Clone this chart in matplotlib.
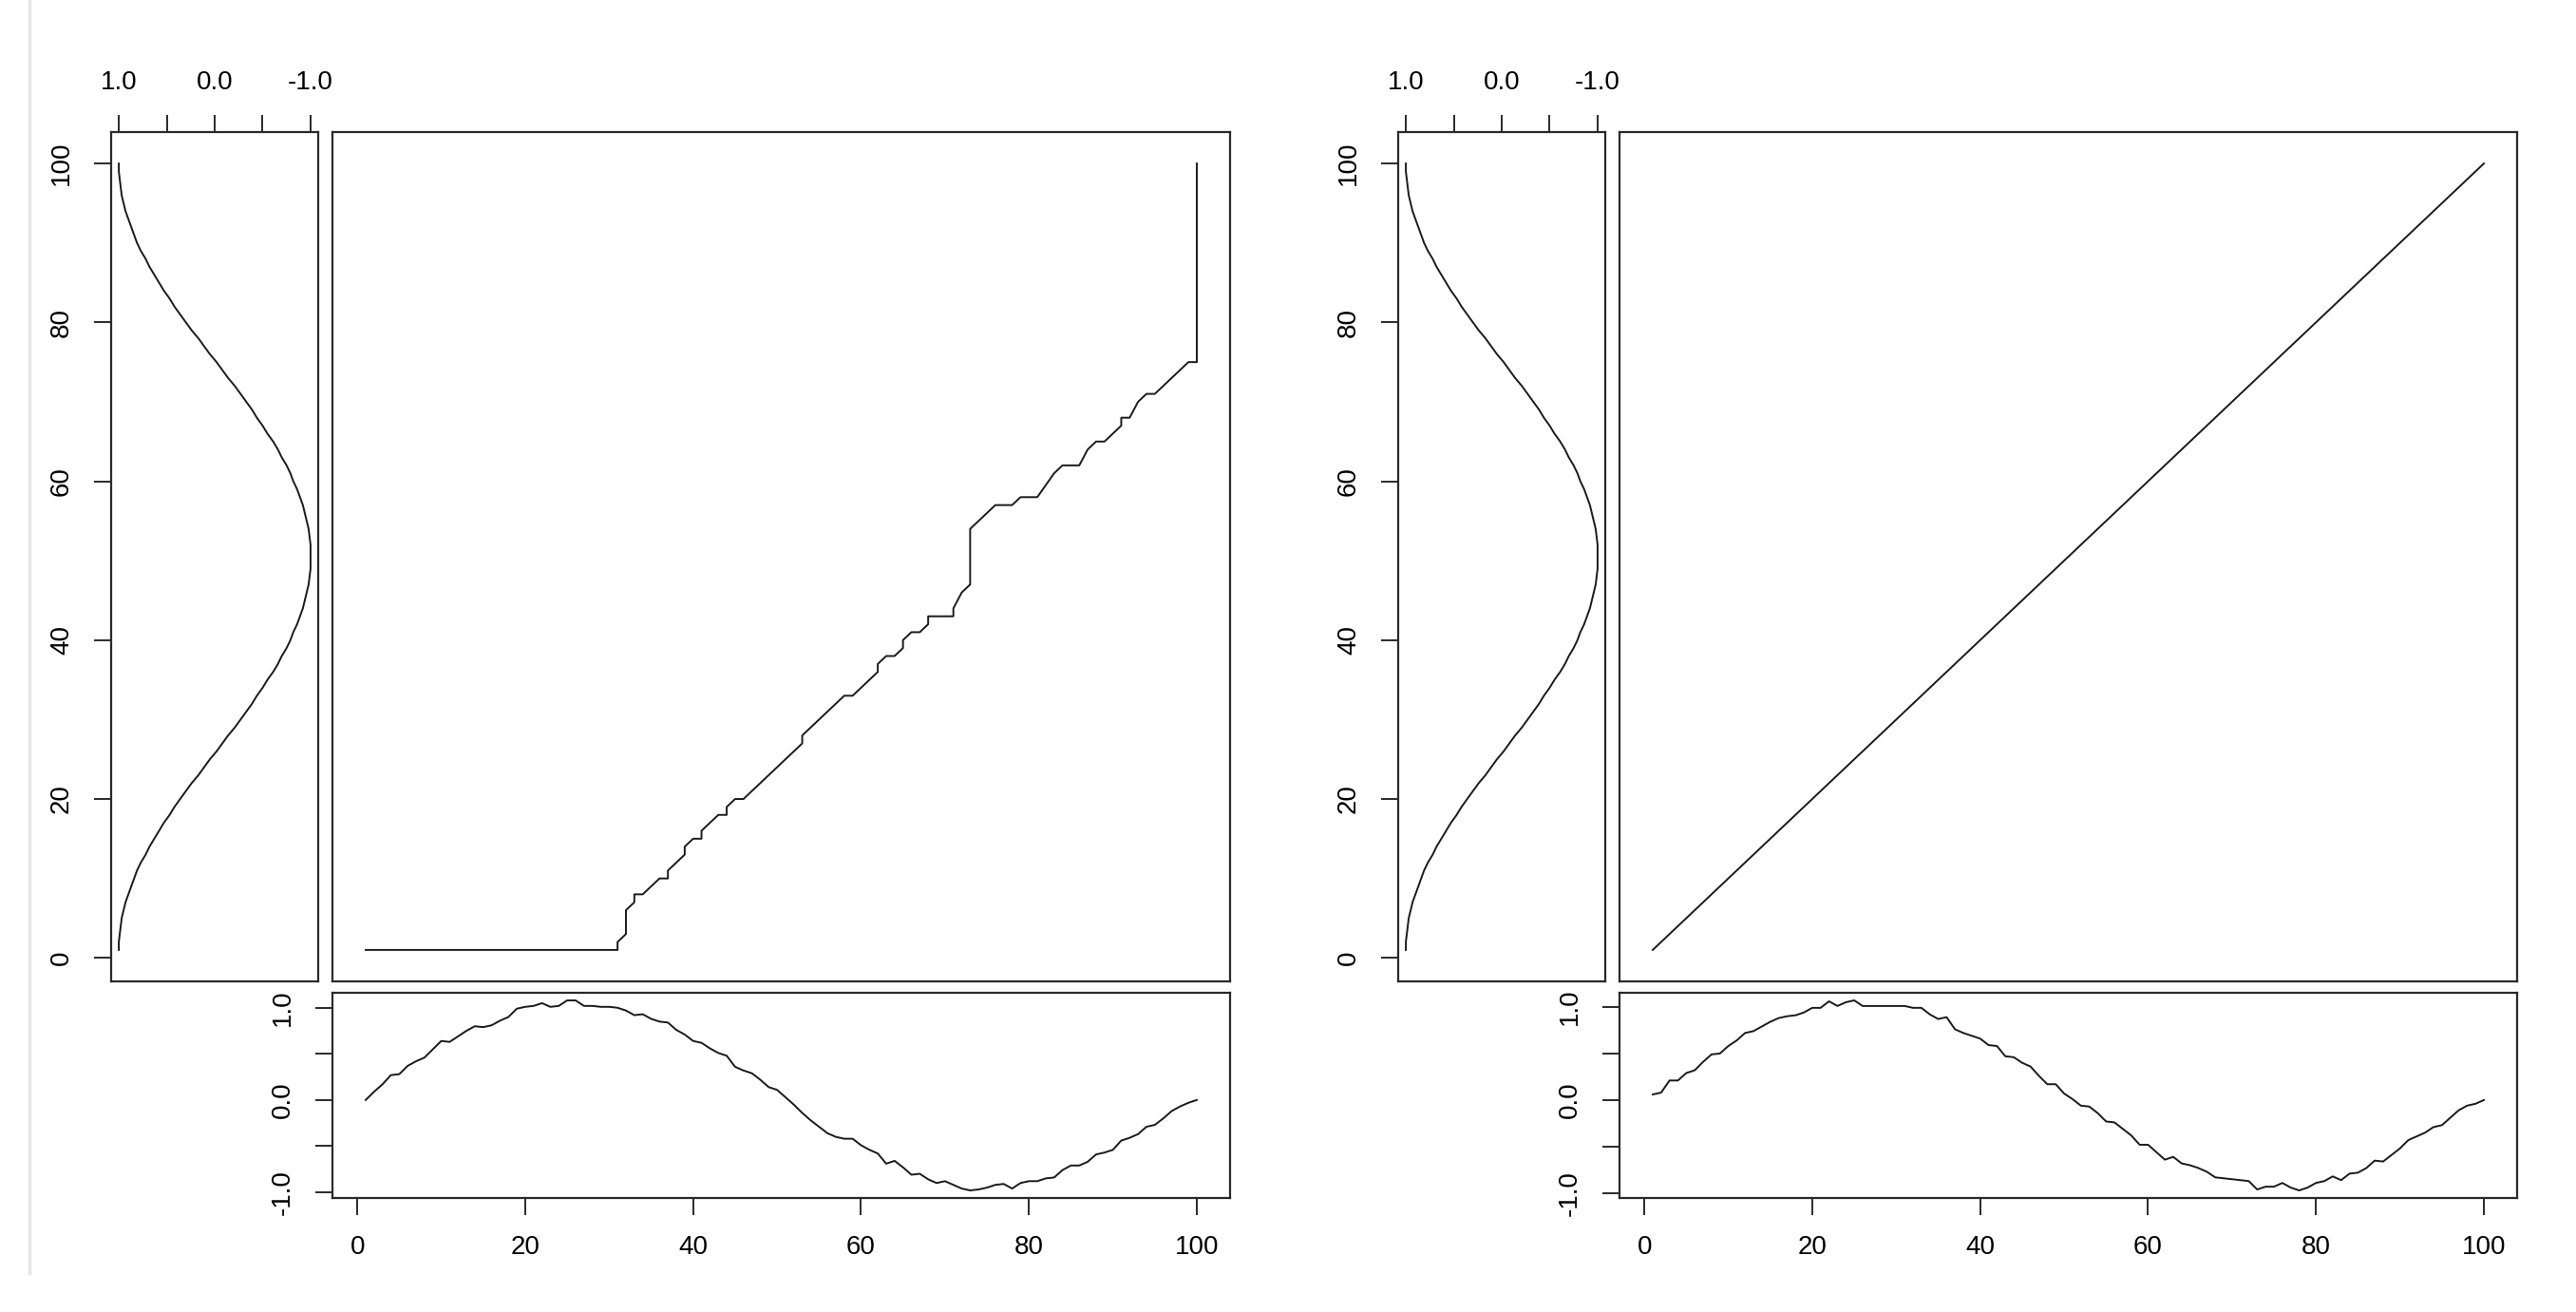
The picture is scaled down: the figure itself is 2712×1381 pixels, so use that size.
import matplotlib
matplotlib.use("Agg")
import matplotlib.pyplot as plt
from matplotlib.lines import Line2D
import numpy as np

plt.rcParams['font.family'] = ['Liberation Sans', 'DejaVu Sans']

# ---------------- data ----------------
index = list(range(1, 101))

query = [1.00, 1.00, 0.99, 0.98, 0.97, 0.95, 0.93, 0.90, 0.87, 0.84,
         0.81, 0.77, 0.72, 0.68, 0.63, 0.58, 0.53, 0.47, 0.42, 0.36,
         0.30, 0.24, 0.17, 0.11, 0.05, -0.02, -0.08, -0.14, -0.21, -0.27,
         -0.33, -0.39, -0.44, -0.50, -0.55, -0.61, -0.66, -0.70, -0.75, -0.79,
         -0.82, -0.86, -0.89, -0.92, -0.94, -0.96, -0.98, -0.99, -1.00, -1.00,
         -1.00, -1.00, -0.99, -0.98, -0.96, -0.94, -0.92, -0.89, -0.86, -0.82,
         -0.79, -0.75, -0.70, -0.66, -0.61, -0.55, -0.50, -0.44, -0.39, -0.33,
         -0.27, -0.21, -0.14, -0.08, -0.02, 0.05, 0.11, 0.17, 0.24, 0.30,
         0.36, 0.42, 0.47, 0.53, 0.58, 0.63, 0.68, 0.72, 0.77, 0.81,
         0.84, 0.87, 0.90, 0.93, 0.95, 0.97, 0.98, 0.99, 1.00, 1.00]

ref_left = [0.00, 0.09, 0.17, 0.27, 0.28, 0.37, 0.42, 0.46, 0.55, 0.64,
            0.63, 0.69, 0.75, 0.80, 0.79, 0.81, 0.86, 0.90, 0.99, 1.01,
            1.02, 1.05, 1.01, 1.02, 1.08, 1.08, 1.02, 1.02, 1.01, 1.01,
            1.00, 0.97, 0.92, 0.93, 0.88, 0.85, 0.84, 0.76, 0.71, 0.64,
            0.62, 0.56, 0.51, 0.48, 0.36, 0.32, 0.29, 0.22, 0.14, 0.11,
            0.03, -0.05, -0.14, -0.22, -0.29, -0.36, -0.40, -0.42, -0.42, -0.49,
            -0.54, -0.58, -0.69, -0.66, -0.73, -0.81, -0.80, -0.86, -0.90, -0.88,
            -0.92, -0.96, -0.98, -0.97, -0.95, -0.92, -0.91, -0.96, -0.90, -0.88,
            -0.88, -0.85, -0.84, -0.76, -0.71, -0.71, -0.67, -0.59, -0.57, -0.54,
            -0.44, -0.41, -0.37, -0.29, -0.27, -0.20, -0.12, -0.07, -0.03, 0.00]

ref_right = [0.06, 0.08, 0.21, 0.21, 0.29, 0.32, 0.41, 0.49, 0.50, 0.58,
             0.64, 0.72, 0.74, 0.79, 0.84, 0.88, 0.90, 0.91, 0.94, 0.99,
             0.99, 1.06, 1.01, 1.05, 1.07, 1.01, 1.01, 1.01, 1.01, 1.01,
             1.01, 0.99, 0.99, 0.92, 0.87, 0.89, 0.76, 0.72, 0.69, 0.66,
             0.59, 0.58, 0.47, 0.46, 0.40, 0.36, 0.26, 0.17, 0.17, 0.07,
             0.01, -0.06, -0.07, -0.14, -0.23, -0.24, -0.31, -0.38, -0.48, -0.48,
             -0.56, -0.64, -0.61, -0.68, -0.70, -0.73, -0.77, -0.83, -0.84, -0.85,
             -0.86, -0.87, -0.96, -0.93, -0.93, -0.89, -0.94, -0.97, -0.94, -0.89,
             -0.87, -0.82, -0.86, -0.79, -0.78, -0.73, -0.65, -0.66, -0.59, -0.52,
             -0.43, -0.39, -0.35, -0.29, -0.27, -0.19, -0.11, -0.06, -0.04, 0.00]

# warping path vertices (reference index, query index)
path_left_x = [1, 31, 31, 32, 32, 33, 33, 34, 35, 36, 37, 37, 39, 39, 40, 41, 41, 43, 44, 44,
               45, 46, 53, 53, 57, 58, 59, 62, 62, 63, 64, 65, 65, 66, 67, 68, 68, 71, 71, 72,
               73, 73, 74, 76, 78, 79, 81, 83, 84, 86, 87, 88, 89, 91, 91, 92, 93, 94, 95, 98,
               99, 100, 100]
path_left_y = [1, 1, 2, 3, 6, 7, 8, 8, 9, 10, 10, 11, 13, 14, 15, 15, 16, 18, 18, 19,
               20, 20, 27, 28, 32, 33, 33, 36, 37, 38, 38, 39, 40, 41, 41, 42, 43, 43, 44, 46,
               47, 54, 55, 57, 57, 58, 58, 61, 62, 62, 64, 65, 65, 67, 68, 68, 70, 71, 71, 74,
               75, 75, 100]
path_right_x = [1, 100]
path_right_y = [1, 100]

idx_ticks = [0, 20, 40, 60, 80, 100]
val_ticks = [-1.0, -0.5, 0.0, 0.5, 1.0]
val_labels = ['-1.0', '', '0.0', '', '1.0']

# ---------------- layout ----------------
W, H = 2712, 1381
fig = plt.figure(figsize=(W / 100, H / 100), dpi=100)
fig.patch.set_facecolor('white')

def px_axes(x0, y0, x1, y1):
    return fig.add_axes([x0 / W, 1 - y1 / H, (x1 - x0) / W, (y1 - y0) / H])

LC = '#1a1a1a'
BOX = '#2a2a2a'
FS = 20
TL = 13
PAD = 15

def style_box(ax):
    for s in ax.spines.values():
        s.set_linewidth(1.6)
        s.set_color(BOX)

def ext(lo, hi):
    d = (hi - lo) * 0.04
    return lo - d, hi + d

TOP = 139
MID = 1033

def three_way(offset, ref, path_x, path_y):
    # vertical query panel
    axq = px_axes(117 + offset, TOP, 335 + offset, MID)
    axq.plot(query, index, color=LC, lw=1.4)
    qlo, qhi = ext(min(query), max(query))
    axq.set_xlim(qhi, qlo)
    axq.set_ylim(*ext(1, 100))
    axq.xaxis.tick_top()
    axq.set_xticks(val_ticks)
    axq.set_xticklabels(val_labels)
    axq.set_yticks(idx_ticks)
    axq.set_yticklabels([str(t) for t in idx_ticks])
    axq.tick_params(axis='both', direction='out', length=TL, width=1.4, color=BOX,
                    labelsize=FS, pad=PAD)
    axq.tick_params(axis='y', labelrotation=90)
    for lab in axq.get_yticklabels():
        lab.set_va('center')
    style_box(axq)

    # main warping panel
    axm = px_axes(350 + offset, TOP, 1295 + offset, MID)
    axm.plot(path_x, path_y, color=LC, lw=1.4)
    axm.set_xlim(*ext(1, 100))
    axm.set_ylim(*ext(1, 100))
    axm.set_xticks([])
    axm.set_yticks([])
    style_box(axm)

    # bottom reference panel
    axr = px_axes(350 + offset, 1045, 1295 + offset, 1261)
    axr.plot(index, ref, color=LC, lw=1.4)
    axr.set_xlim(*ext(1, 100))
    axr.set_ylim(*ext(min(ref), max(ref)))
    axr.set_xticks(idx_ticks)
    axr.set_xticklabels([str(t) for t in idx_ticks])
    axr.set_yticks(val_ticks)
    axr.set_yticklabels(val_labels)
    axr.tick_params(axis='both', direction='out', length=TL, width=1.4, color=BOX,
                    labelsize=FS, pad=PAD)
    axr.tick_params(axis='y', labelrotation=90)
    for lab in axr.get_yticklabels():
        lab.set_va('center')
    style_box(axr)

three_way(0, ref_left, path_left_x, path_left_y)
three_way(1355, ref_right, path_right_x, path_right_y)

# faint screenshot border line on the left
fig.add_artist(Line2D([31 / W, 31 / W], [1.0, 1 - 1340 / H], transform=fig.transFigure,
                      color='#e6e6e6', lw=2.5))

fig.savefig('out.png', dpi=100, facecolor='white')
